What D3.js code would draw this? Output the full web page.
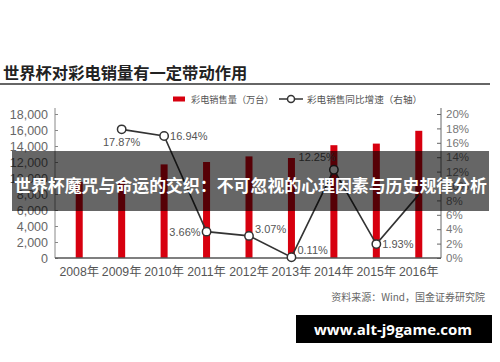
<!DOCTYPE html>
<html><head><meta charset="utf-8">
<script src="https://cdn.jsdelivr.net/npm/d3@7"></script>
<style>body{margin:0;background:#fff}svg{display:block}</style>
</head><body><svg id="c" width="500" height="362"></svg>
<script>
const years = ["2008年","2009年","2010年","2011年","2012年","2013年","2014年","2015年","2016年"];
const sales = [9500, 9600, 11700, 12000, 12700, 12500, 14100, 14300, 15900];
const growth = [null, 17.87, 16.94, 3.66, 3.07, 0.11, 12.25, 1.93, 8.8];
const growthLabels = [null, "17.87%", "16.94%", "3.66%", "3.07%", "0.11%", "12.25%", "1.93%", null];
const labelPos = [null, "below", "right", "left", "rightUp", "rightUp2", "leftUp", "right", null];
const leftTicks = [0,2000,4000,6000,8000,10000,12000,14000,16000,18000];
const rightTicks = [0,2,4,6,8,10,12,14,16,18,20];
const title = "世界杯对彩电销量有一定带动作用";
const legendBar = "彩电销售量（万台）";
const legendLine = "彩电销售同比增速（右轴）";
const source = "资料来源：Wind，国金证券研究院";
const banner = "世界杯魔咒与命运的交织：不可忽视的心理因素与历史规律分析";
const watermark = "www.alt-j9game.com";

const svg = d3.select("#c");
const FONT = "'Liberation Sans', Arial, 'Noto Sans CJK SC', sans-serif";
const CJK = "'Noto Sans CJK SC', sans-serif";
const pLeft = 55, pRight = 441, pTop = 114, pBottom = 258;

const x = d3.scaleBand().domain(years).range([58, 440]).paddingInner(0.835).paddingOuter(0.4175);
const yL = d3.scaleLinear().domain([0, 18000]).range([pBottom, pTop]);
const yR = d3.scaleLinear().domain([0, 20]).range([pBottom, pTop]);

// title
svg.append("text").attr("x", 3).attr("y", 79).text(title)
  .attr("font-family", CJK).attr("font-weight", "bold").attr("font-size", 16.3).attr("fill", "#222");
svg.append("line").attr("x1", 0).attr("x2", 490).attr("y1", 84).attr("y2", 84)
  .attr("stroke", "#333").attr("stroke-width", 1.5);

// legend
svg.append("rect").attr("x", 173).attr("y", 96.5).attr("width", 12).attr("height", 5).attr("fill", "#d7000f");
svg.append("text").attr("x", 191).attr("y", 102.5).text(legendBar)
  .attr("font-family", CJK).attr("font-size", 9.2).attr("fill", "#555");
svg.append("line").attr("x1", 279).attr("x2", 303).attr("y1", 99).attr("y2", 99).attr("stroke", "#333").attr("stroke-width", 1.5);
svg.append("circle").attr("cx", 291).attr("cy", 99).attr("r", 3.5).attr("fill", "#fff").attr("stroke", "#333").attr("stroke-width", 1.5);
svg.append("text").attr("x", 307).attr("y", 102.5).text(legendLine)
  .attr("font-family", CJK).attr("font-size", 9.6).attr("fill", "#555");

// axes
const axL = svg.append("g").attr("transform", `translate(${pLeft},0)`)
  .call(d3.axisRight(yL).tickValues(leftTicks).tickSize(3).tickFormat(d3.format(",")));
axL.select(".domain").remove();
axL.selectAll(".tick line").attr("stroke", "#888");
axL.selectAll(".tick text").attr("x", -7).attr("text-anchor", "end")
  .attr("font-family", FONT).attr("font-size", 12.5).attr("fill", "#666");
svg.append("line").attr("x1", pLeft).attr("x2", pLeft).attr("y1", 108).attr("y2", pBottom).attr("stroke", "#888");

const axR = svg.append("g").attr("transform", `translate(${pRight},0)`)
  .call(d3.axisLeft(yR).tickValues(rightTicks).tickSize(4).tickFormat(d => d + "%"));
axR.select(".domain").remove();
axR.selectAll(".tick line").attr("stroke", "#666");
axR.selectAll(".tick text").attr("x", 5).attr("text-anchor", "start")
  .attr("font-family", FONT).attr("font-size", 11.5).attr("fill", "#777");
svg.append("line").attr("x1", pRight).attr("x2", pRight).attr("y1", 108).attr("y2", pBottom).attr("stroke", "#666");

// bars
svg.append("g").selectAll("rect").data(years).join("rect")
  .attr("x", d => x(d)).attr("width", x.bandwidth())
  .attr("y", (d, i) => yL(sales[i])).attr("height", (d, i) => pBottom - yL(sales[i]))
  .attr("fill", "#d7000f");

// baseline
svg.append("line").attr("x1", pLeft).attr("x2", pRight).attr("y1", pBottom).attr("y2", pBottom)
  .attr("stroke", "#555").attr("stroke-width", 1.5);

// year labels
svg.append("g").selectAll("text").data(years).join("text")
  .attr("x", d => x(d) + x.bandwidth() / 2).attr("y", 276).attr("text-anchor", "middle")
  .text(d => d).attr("font-family", FONT).attr("font-size", 12.3).attr("fill", "#555");

// line
const pts = years.map((d, i) => ({ d, i, v: growth[i] })).filter(p => p.v !== null);
const cx = p => x(p.d) + x.bandwidth() / 2;
svg.append("path").datum(pts)
  .attr("d", d3.line().x(cx).y(p => yR(p.v)))
  .attr("fill", "none").attr("stroke", "#333").attr("stroke-width", 1.6);
svg.append("g").selectAll("circle").data(pts.filter(p => growthLabels[p.i])).join("circle")
  .attr("cx", cx).attr("cy", p => yR(p.v)).attr("r", 4.2)
  .attr("fill", "#fff").attr("stroke", "#333").attr("stroke-width", 1.5);

// labels
const off = {
  below: [0, 17, "middle"], right: [6, 4, "start"], left: [-6, 4, "end"],
  rightUp: [6, -3, "start"], rightUp2: [6, -3, "start"], leftUp: [2, -9, "end"]
};
svg.append("g").selectAll("text").data(pts.filter(p => growthLabels[p.i])).join("text")
  .attr("x", p => cx(p) + off[labelPos[p.i]][0])
  .attr("y", p => yR(p.v) + off[labelPos[p.i]][1])
  .attr("text-anchor", p => off[labelPos[p.i]][2])
  .text(p => growthLabels[p.i])
  .attr("font-family", FONT).attr("font-size", 11).attr("fill", "#555");

// source
svg.append("text").attr("x", 485).attr("y", 301).attr("text-anchor", "end").text(source)
  .attr("font-family", CJK).attr("font-size", 10).attr("fill", "#666");

// banner overlay
svg.append("rect").attr("x", 12).attr("y", 151).attr("width", 477).attr("height", 60)
  .attr("fill", "#000").attr("fill-opacity", 0.6);
svg.append("text").attr("x", 250.5).attr("y", 192).attr("text-anchor", "middle").text(banner)
  .attr("font-family", CJK).attr("font-weight", "bold").attr("font-size", 16.9).attr("fill", "#fff");

// watermark
svg.append("rect").attr("x", 296).attr("y", 315).attr("width", 196).attr("height", 28).attr("fill", "#000");
svg.append("text").attr("x", 393).attr("y", 334.5).attr("text-anchor", "middle").text(watermark)
  .attr("font-family", "'Open Sans', 'DejaVu Sans', sans-serif").attr("font-weight", "bold")
  .attr("font-size", 15).attr("fill", "#fff");
</script></body></html>
